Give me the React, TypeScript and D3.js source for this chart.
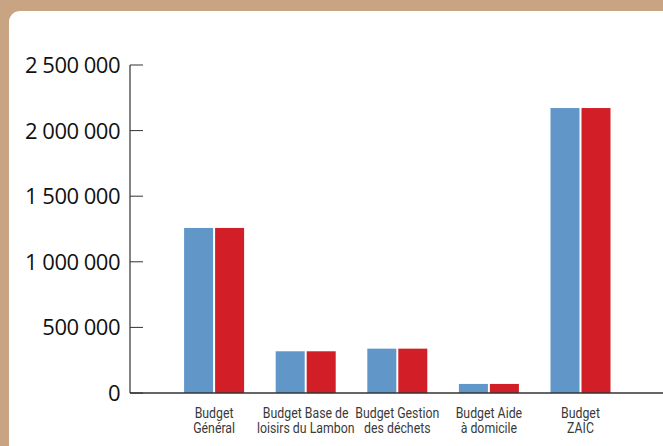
import { useEffect, useRef } from "react";
import * as d3 from "d3";

const categories = [
  ["Budget", "Général"],
  ["Budget Base de", "loisirs du Lambon"],
  ["Budget Gestion", "des déchets"],
  ["Budget Aide", "à domicile"],
  ["Budget", "ZAIC"],
];
const seriesA = [1258000, 318000, 338000, 69000, 2172000];
const seriesB = [1258000, 318000, 338000, 69000, 2172000];
const yTicks = [0, 500000, 1000000, 1500000, 2000000, 2500000];

const W = 663;
const H = 446;

export default function App() {
  const svgRef = useRef<SVGSVGElement>(null);

  useEffect(() => {
    const svg = d3.select(svgRef.current);
    svg.selectAll("*").remove();

    // background + panel
    svg.append("rect").attr("width", W).attr("height", H).attr("fill", "#c8a483");
    svg
      .append("rect")
      .attr("x", 9)
      .attr("y", 11)
      .attr("width", W + 20)
      .attr("height", H + 20)
      .attr("rx", 11)
      .attr("fill", "#ffffff");

    const y = d3.scaleLinear().domain([0, 2500000]).range([393, 65]);
    const x = d3
      .scaleBand<number>()
      .domain(categories.map((_, i) => i))
      .range([168.3, 626.3]);

    const fmt = (v: number) => (v === 0 ? "0" : d3.format(",")(v).replace(/,/g, " "));

    const g = svg.append("g");

    // bars
    const barW = 29;
    const gap = 2;
    categories.forEach((_, i) => {
      const cx = x(i)! + x.bandwidth() / 2;
      g.append("rect")
        .attr("x", cx - gap / 2 - barW)
        .attr("y", y(seriesA[i]))
        .attr("width", barW)
        .attr("height", y(0) - y(seriesA[i]))
        .attr("fill", "#6096c8");
      g.append("rect")
        .attr("x", cx + gap / 2)
        .attr("y", y(seriesB[i]))
        .attr("width", barW)
        .attr("height", y(0) - y(seriesB[i]))
        .attr("fill", "#d21f27");
    });

    // y axis
    g.append("line")
      .attr("x1", 130)
      .attr("x2", 130)
      .attr("y1", y(2500000))
      .attr("y2", y(0))
      .attr("stroke", "#333")
      .attr("stroke-width", 1.2);
    yTicks.forEach((t) => {
      g.append("line")
        .attr("x1", 130)
        .attr("x2", 143)
        .attr("y1", y(t))
        .attr("y2", y(t))
        .attr("stroke", "#333")
        .attr("stroke-width", 1);
      g.append("text")
        .attr("x", 120)
        .attr("y", y(t))
        .attr("dy", "0.36em")
        .attr("text-anchor", "end")
        .attr("font-family", "'Open Sans', sans-serif")
        .attr("font-size", 22)
        .attr("letter-spacing", -0.5)
        .attr("fill", "#111")
        .text(fmt(t));
    });

    // baseline
    g.append("line")
      .attr("x1", 130)
      .attr("x2", W)
      .attr("y1", y(0))
      .attr("y2", y(0))
      .attr("stroke", "#333")
      .attr("stroke-width", 1.6);

    // category labels (condensed look via horizontal scaling)
    const sx = 0.88;
    categories.forEach((lines, i) => {
      const cx = x(i)! + x.bandwidth() / 2;
      const t = g
        .append("text")
        .attr("transform", `translate(${cx},0) scale(${sx},1)`)
        .attr("text-anchor", "middle")
        .attr("font-family", "Roboto, sans-serif")
        .attr("font-size", 14)
        .attr("fill", "#3a3a3a");
      lines.forEach((l, j) => {
        t.append("tspan").attr("x", 0).attr("y", 418 + j * 15).text(l);
      });
    });
  }, []);

  return (
    <svg
      ref={svgRef}
      width={W}
      height={H}
      style={{ position: "absolute", left: 0, top: 0, display: "block" }}
    />
  );
}
